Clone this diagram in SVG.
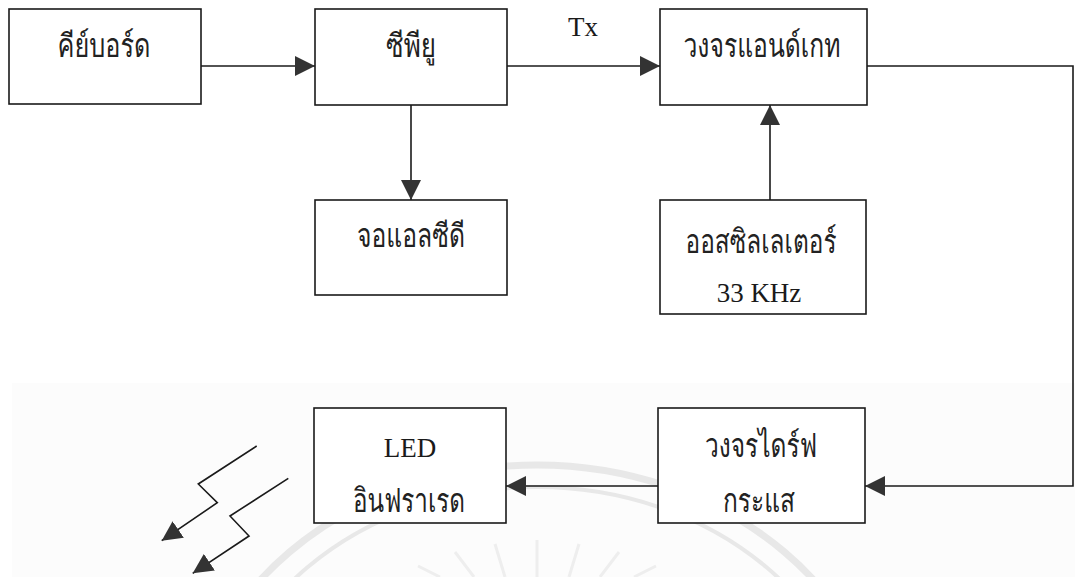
<svg xmlns="http://www.w3.org/2000/svg" width="1075" height="577" viewBox="0 0 1075 577">
<style>
.box{fill:#fff;stroke:#1a1a1a;stroke-width:1.6}
.th{font-family:"Kinnari","Norasi","Laksaman","Garuda","Loma","Noto Serif Thai","Noto Sans Thai","Liberation Serif",serif;font-size:33px;font-weight:300;fill:#222;text-anchor:middle}
.en{font-family:"Liberation Serif",serif;font-size:27px;fill:#1a1a1a;text-anchor:middle}
.ln{fill:none;stroke:#1a1a1a;stroke-width:1.6}
.wm{fill:none;stroke:#e8e8e8}
</style>
<defs>
<marker id="ah" viewBox="0 0 20 20" refX="20" refY="10" markerWidth="20" markerHeight="20" markerUnits="userSpaceOnUse" orient="auto">
<path d="M0,0 L20,10 L0,20 Z" fill="#333"/>
</marker>
</defs>
<rect width="1075" height="577" fill="#fff"/>
<rect x="12" y="383" width="1063" height="194" fill="#fcfcfc"/>
<g id="watermark">
<ellipse class="wm" cx="537" cy="762" rx="350" ry="297" stroke-width="7"/>
<ellipse class="wm" cx="537" cy="762" rx="325" ry="275" stroke-width="4"/>
<g stroke="#eeeeee" stroke-width="3">
<line x1="537" y1="540" x2="537" y2="577"/>
<line x1="495" y1="544" x2="505" y2="577"/>
<line x1="579" y1="544" x2="569" y2="577"/>
<line x1="455" y1="552" x2="474" y2="577"/>
<line x1="619" y1="552" x2="600" y2="577"/>
<line x1="418" y1="566" x2="440" y2="577"/>
<line x1="656" y1="566" x2="634" y2="577"/>
</g>
</g>
<g id="n-keyboard"><rect class="box" x="9" y="9" width="192" height="95"/><text class="th" x="104" y="57" textLength="93" lengthAdjust="spacingAndGlyphs">คีย์บอร์ด</text></g>
<g id="n-cpu"><rect class="box" x="315" y="9" width="192" height="96"/><text class="th" x="411" y="57" textLength="50" lengthAdjust="spacingAndGlyphs">ซีพียู</text></g>
<g id="n-lcd"><rect class="box" x="315" y="200" width="192" height="95"/><text class="th" x="411" y="247" textLength="108" lengthAdjust="spacingAndGlyphs">จอแอลซีดี</text></g>
<g id="n-and"><rect class="box" x="660" y="9" width="207" height="96"/><text class="th" x="762" y="57" textLength="157" lengthAdjust="spacingAndGlyphs">วงจรแอนด์เกท</text></g>
<g id="n-osc"><rect class="box" x="660" y="200" width="206" height="114"/><text class="th" x="761" y="253" textLength="151" lengthAdjust="spacingAndGlyphs">ออสซิลเลเตอร์</text><text class="en" x="759" y="302">33 KHz</text></g>
<g id="n-drive"><rect class="box" x="658" y="408" width="207" height="115"/><text class="th" x="761" y="457" textLength="112" lengthAdjust="spacingAndGlyphs">วงจรไดร์ฟ</text><text class="th" x="759" y="512" textLength="72" lengthAdjust="spacingAndGlyphs">กระแส</text></g>
<g id="n-led"><rect class="box" x="314" y="408" width="192" height="115"/><text class="en" x="410" y="457">LED</text><text class="th" x="409" y="512" textLength="112" lengthAdjust="spacingAndGlyphs">อินฟราเรด</text></g>
<g id="connectors">
<line class="ln" x1="201" y1="66" x2="315" y2="66" marker-end="url(#ah)"/>
<line class="ln" x1="411" y1="105" x2="411" y2="200" marker-end="url(#ah)"/>
<line class="ln" x1="507" y1="66" x2="660" y2="66" marker-end="url(#ah)"/>
<text class="en" x="583" y="36" font-size="22">Tx</text>
<line class="ln" x1="770" y1="200" x2="770" y2="105" marker-end="url(#ah)"/>
<polyline class="ln" points="867,66 1073,66 1073,486 865,486" marker-end="url(#ah)"/>
<line class="ln" x1="658" y1="486" x2="506" y2="486" marker-end="url(#ah)"/>
<polyline class="ln" points="256.7,446 198.3,484 217.3,502.7 161.7,540.7" marker-end="url(#ah)"/>
<polyline class="ln" points="288.3,478.3 230,516 249,536 192.7,573.3" marker-end="url(#ah)"/>
</g>
</svg>
